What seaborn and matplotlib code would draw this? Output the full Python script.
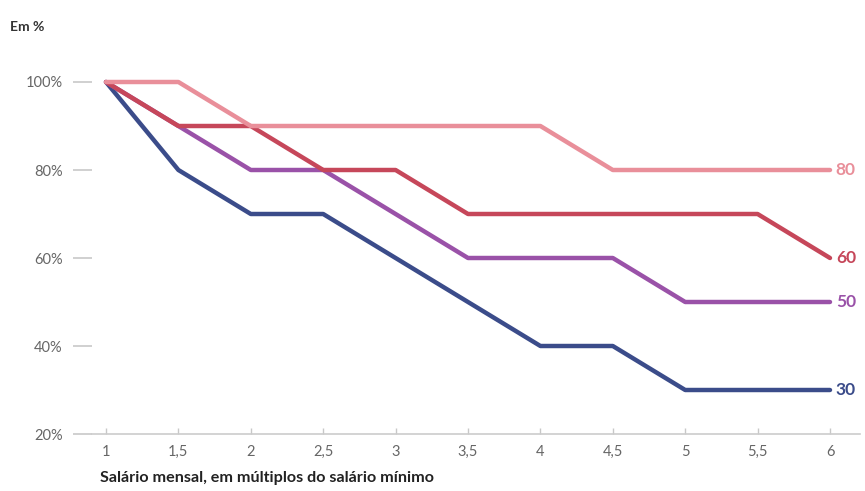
import pandas as pd
import matplotlib.pyplot as plt
import seaborn as sns

# chart data
salario = [1, 1.5, 2, 2.5, 3, 3.5, 4, 4.5, 5, 5.5, 6]
serie_30 = [100, 80, 70, 70, 60, 50, 40, 40, 30, 30, 30]
serie_50 = [100, 90, 80, 80, 70, 60, 60, 60, 50, 50, 50]
serie_60 = [100, 90, 90, 80, 80, 70, 70, 70, 70, 70, 60]
serie_80 = [100, 100, 90, 90, 90, 90, 90, 80, 80, 80, 80]
series_names = ['30', '50', '60', '80']
x_labels = ['1', '1,5', '2', '2,5', '3', '3,5', '4', '4,5', '5', '5,5', '6']
y_ticks = [20, 40, 60, 80, 100]

colors = {'30': '#3b4c8a', '50': '#9a52a8', '60': '#c6475a', '80': '#e98f9a'}

df = pd.DataFrame({
    'salario': salario * 4,
    'valor': serie_30 + serie_50 + serie_60 + serie_80,
    'serie': [s for s in series_names for _ in salario],
})

sns.set_style("white")
plt.rcParams['font.family'] = ['Lato', 'DejaVu Sans']

fig = plt.figure(figsize=(8.65, 4.91), dpi=100)
ax = fig.add_axes([92 / 865, 1 - 434 / 491, 768 / 865, 374 / 491])

sns.lineplot(data=df, x='salario', y='valor', hue='serie', palette=colors,
             hue_order=series_names, linewidth=3.2, legend=False, ax=ax)

ax.set_xlim(1 - 14 / 144.8, 6 + 30 / 144.8)
ax.set_ylim(20, 105)
ax.set_xticks(salario)
ax.set_xticklabels(x_labels)
ax.set_yticks(y_ticks)
ax.set_yticklabels([f'{v}%' for v in y_ticks])
ax.set_xlabel('')
ax.set_ylabel('')

for side in ['top', 'right', 'left']:
    ax.spines[side].set_visible(False)
ax.spines['bottom'].set_color('#cccccc')
ax.spines['bottom'].set_linewidth(1.2)

ax.tick_params(axis='y', length=14, width=1.2, color='#c8c8c8', pad=7,
               labelsize=10.5, labelcolor='#666666', left=True)
ax.tick_params(axis='x', direction='in', length=4, width=1, color='#c8c8c8',
               pad=8, labelsize=10.5, labelcolor='#666666', bottom=True)

# end labels
for name, vals in zip(series_names, [serie_30, serie_50, serie_60, serie_80]):
    ax.text(6.04, vals[-1], name, color=colors[name], fontsize=12.5,
            fontweight='bold', va='center', ha='left')

fig.text(10 / 865, 1 - 27 / 491, 'Em %', fontsize=10, fontweight='bold',
         color='#333333', va='center')
fig.text(100 / 865, 1 - 478 / 491, 'Salário mensal, em múltiplos do salário mínimo',
         fontsize=11.6, fontweight='bold', color='#222222', va='center')

fig.savefig('out.png', dpi=100)
